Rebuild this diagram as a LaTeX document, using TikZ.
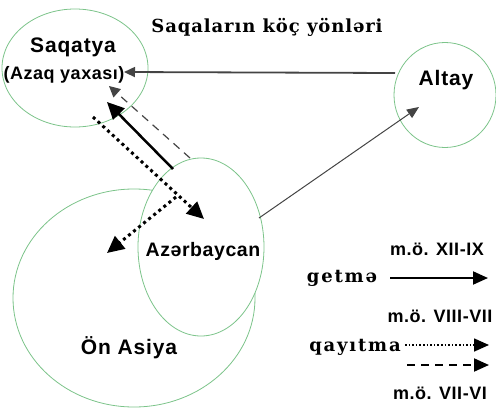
\documentclass[tikz,border=0pt]{standalone}
\usepackage{fontspec}
\setmainfont{Liberation Sans}
\newfontfamily\serifb[LetterSpace=5]{DejaVu Serif}
\newfontfamily\serifw[LetterSpace=10]{DejaVu Serif}
\newfontfamily\sansw[LetterSpace=4]{Liberation Sans}
\newfontfamily\sansl[LetterSpace=3]{Liberation Sans}
\usetikzlibrary{shapes.geometric,arrows.meta}
\definecolor{ringgreen}{HTML}{7CC48A}
\definecolor{linegray}{HTML}{444444}
\begin{document}
\begin{tikzpicture}[x=1pt,y=-1pt,
  ring/.style={ellipse, draw=ringgreen, line width=0.8pt, inner sep=0pt, fill=white},
  lbl/.style={font=\sansw\bfseries\fontsize{21}{21}\selectfont, inner sep=0pt},
  leg/.style={font=\sansl\bfseries\fontsize{18}{18}\selectfont, inner sep=0pt},
  ser/.style={font=\serifw\bfseries\fontsize{18}{18}\selectfont, inner sep=0pt},
  bigtip/.style={-{Triangle[length=17pt,width=16pt]}},
  legtip/.style={-{Triangle[length=15pt,width=13pt]}},
  dotline/.style={line width=3pt, dash pattern=on 3pt off 3.5pt},
]
\useasboundingbox (0,0) rectangle (496,408);
% rings
\node[ring, minimum width=242pt, minimum height=218pt] (onasiya) at (134,298) {};
\node[ring, minimum width=126pt, minimum height=178pt] (aze) at (201,247) {};
\node[ring, minimum width=146pt, minimum height=118pt] (saq) at (75,68) {};
\node[ring, minimum width=102pt, minimum height=105pt] (altay) at (445,95) {};
% labels
\node[font=\serifb\bfseries\fontsize{18}{18}\selectfont, inner sep=0pt] (title) at (267,27) {Saqaların köç yönləri};
\node[lbl] (saqt) at (73,47) {Saqatya};
\node[lbl, font=\sansl\bfseries\fontsize{18}{18}\selectfont] (azaq) at (64,75) {(Azaq yaxası)};
\node[lbl] (altayt) at (446,80) {Altay};
\node[lbl, font=\sansl\bfseries\fontsize{19.5}{19.5}\selectfont] (azet) at (203,251) {Azərbaycan};
\node[lbl] (onasiyat) at (129,348) {Ön Asiya};
% connector endpoints
\coordinate (a1) at (395,73);
\coordinate (a2) at (124,72);
\coordinate (b1) at (259,218);
\coordinate (b2) at (419,107);
\coordinate (c1) at (173,169);
\coordinate (c2) at (107,102);
\coordinate (d1) at (190,158);
\coordinate (d2) at (109,86);
\coordinate (e1) at (93,117);
\coordinate (e2) at (204,219);
\coordinate (f1) at (176,197);
\coordinate (f2) at (107,253);
% connectors
\draw[linegray, line width=1.8pt, -{Triangle[length=11pt,width=10pt]}] (a1) -- (a2);
\draw[linegray, line width=1pt, -{Triangle[length=12pt,width=10pt]}] (b1) -- (b2);
\draw[black, line width=2.5pt, -{Triangle[length=17pt,width=16pt]}] (c1) -- (c2);
\draw[linegray, line width=1.2pt, dash pattern=on 8pt off 6pt, -{Triangle[length=11pt,width=11pt]}] (d1) -- (d2);
\draw[black, dotline, bigtip] (e1) -- (e2);
\draw[black, dotline, bigtip] (f1) -- (f2);
% legend
\node[leg] (l1) at (437,249) {m.ö. XII-IX};
\node[ser] (getme) at (342,278) {getmə};
\coordinate (g1) at (390,278);
\coordinate (g2) at (488,278);
\draw[black, line width=2pt, legtip] (g1) -- (g2);
\node[leg] (l2) at (440,316) {m.ö. VIII-VII};
\node[ser] (qayitma) at (355,347) {qayıtma};
\coordinate (h1) at (405,345);
\coordinate (h2) at (489,345);
\draw[black, line width=1.6pt, dash pattern=on 1.6pt off 2pt, legtip] (h1) -- (h2);
\coordinate (k1) at (407,365);
\coordinate (k2) at (489,365);
\draw[black, line width=2pt, dash pattern=on 8pt off 6pt, legtip] (k1) -- (k2);
\node[leg] (l3) at (440,393) {m.ö. VII-VI};
\end{tikzpicture}
\end{document}
